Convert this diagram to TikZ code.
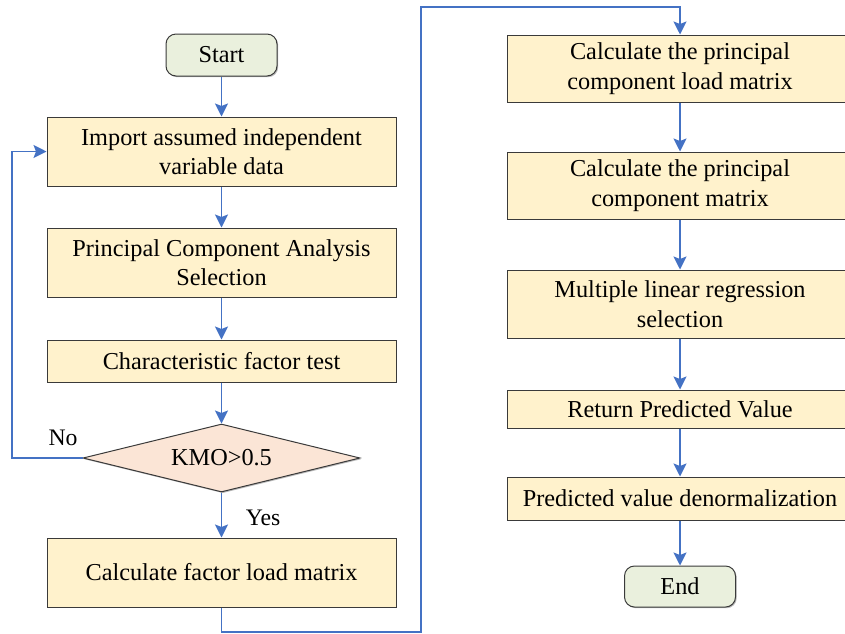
\documentclass[tikz,border=0pt]{standalone}
\usepackage{fontspec}
\setmainfont{Liberation Serif}
\usetikzlibrary{shapes.geometric,arrows.meta,shadows}
\definecolor{boxfill}{HTML}{FFF2CC}
\definecolor{termfill}{HTML}{EAF0DD}
\definecolor{decfill}{HTML}{FBE5D6}
\definecolor{linkblue}{HTML}{4472C4}
\definecolor{edge}{HTML}{3A3A3A}
\begin{document}
\begin{tikzpicture}[x=1pt,y=-1pt,
  every node/.style={font=\fontsize{24.3}{29.5}\selectfont, text=black, inner sep=0pt},
  shad/.style={drop shadow={shadow xshift=1.2pt, shadow yshift=-1.2pt, fill=black!45, opacity=0.6}},
  procbox/.style={draw=edge, line width=1pt, fill=boxfill, align=center, shad},
  termbox/.style={draw=edge, line width=1pt, fill=termfill, rounded corners=10pt, align=center, shad, minimum width=111pt},
  decbox/.style={draw=edge, line width=1pt, fill=decfill, diamond, aspect=4, minimum width=277pt, minimum height=68pt, shad},
  arr/.style={draw=linkblue, line width=1.7pt, -{Stealth[length=13pt,width=13pt,inset=2.5pt]}},
  lbl/.style={font=\fontsize{23.7}{28}\selectfont}
]
\useasboundingbox (0,0) rectangle (845,633);

% left column
\node[termbox, minimum height=42pt] (start) at (221.5,55) {Start};
\node[procbox, minimum width=349pt, minimum height=69pt] (imp) at (221.5,151.5) {Import assumed independent\\variable data};
\node[procbox, minimum width=349pt, minimum height=69pt] (pca) at (221.5,262.5) {Principal Component Analysis\\Selection};
\node[procbox, minimum width=349pt, minimum height=42pt] (cft) at (221.5,361) {Characteristic factor test};
\node[decbox] (kmo) at (221.5,458) {KMO>0.5};
\node[procbox, minimum width=349pt, minimum height=69pt] (cfl) at (221.5,572.5) {Calculate factor load matrix};

% right column
\node[procbox, minimum width=346pt, minimum height=67pt] (r1) at (680,68.5) {Calculate the principal\\component load matrix};
\node[procbox, minimum width=346pt, minimum height=67pt] (r2) at (680,185.5) {Calculate the principal\\component matrix};
\node[procbox, minimum width=346pt, minimum height=68pt] (r3) at (680,304) {Multiple linear regression\\selection};
\node[procbox, minimum width=346pt, minimum height=38pt] (r4) at (680,409) {Return Predicted Value};
\node[procbox, minimum width=346pt, minimum height=43pt] (r5) at (680,498.5) {Predicted value denormalization};
\node[termbox, minimum height=41pt] (end) at (680,586.5) {End};

% labels
\node[lbl] (nolbl) at (63,438) {No};
\node[lbl] (yeslbl) at (263,518) {Yes};

% helper coordinates
\coordinate (loopx) at (12,300);
\coordinate (bot) at (421,632);
\coordinate (top) at (421,7);

% connectors
\draw[arr] (start.south) -- (imp.north);
\draw[arr] (imp.south) -- (pca.north);
\draw[arr] (pca.south) -- (cft.north);
\draw[arr] (cft.south) -- (kmo.north);
\draw[arr] (kmo.south) -- (cfl.north);
\draw[arr] (kmo.west) -| (loopx) |- (imp.west);
\draw[arr] (cfl.south) |- (bot) -- (top) -| (r1.north);
\draw[arr] (r1.south) -- (r2.north);
\draw[arr] (r2.south) -- (r3.north);
\draw[arr] (r3.south) -- (r4.north);
\draw[arr] (r4.south) -- (r5.north);
\draw[arr] (r5.south) -- (end.north);
\end{tikzpicture}
\end{document}
